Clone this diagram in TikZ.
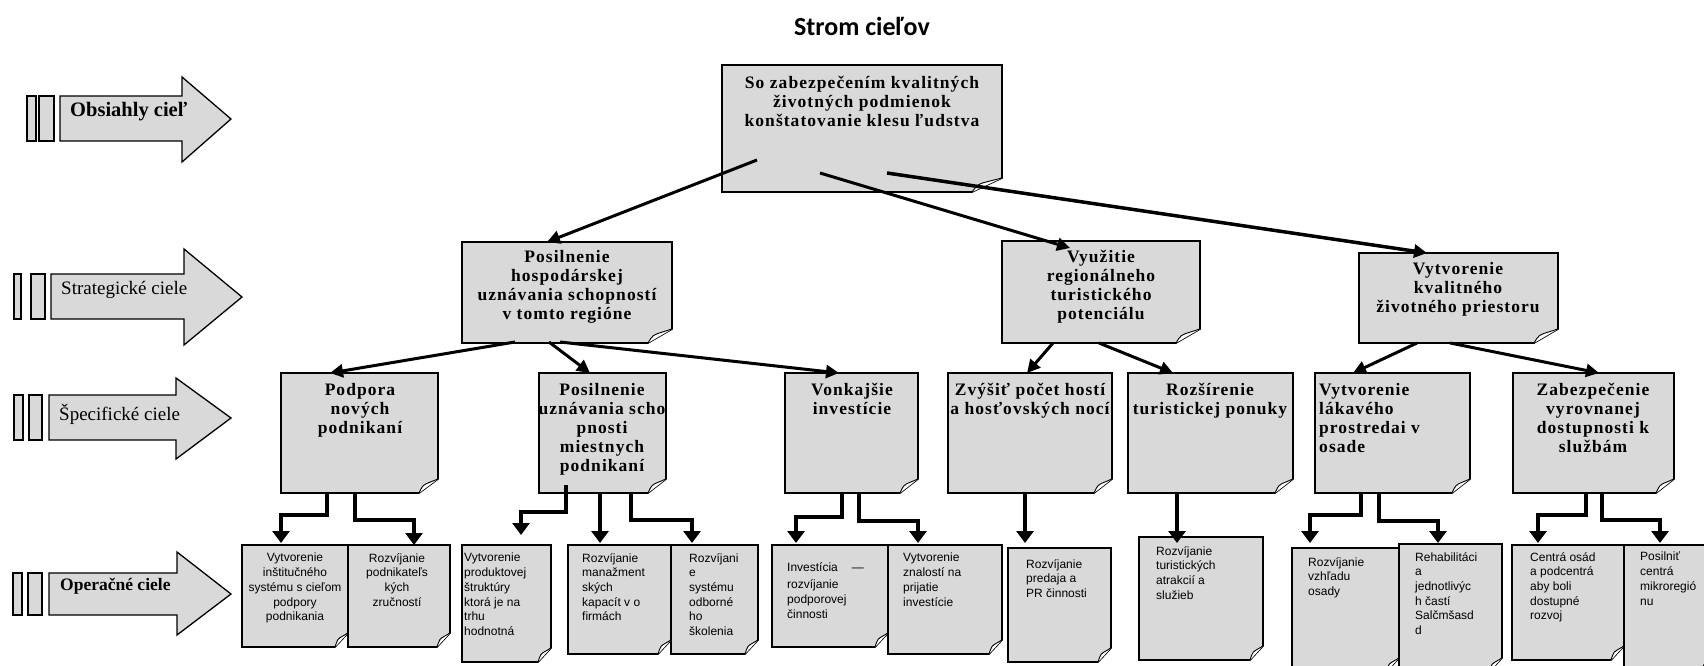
\documentclass[tikz,border=0pt]{standalone}
\usepackage{fontspec}
\setmainfont{Liberation Serif}
\setsansfont{Liberation Sans}
\newfontfamily\titlefont{Carlito}
\usetikzlibrary{arrows.meta,fit}
\definecolor{boxgray}{HTML}{D9D9D9}

\tikzset{
  goal/.style={fill=boxgray, draw=black, line width=1.6pt, line join=miter},
  flap/.style={fill=white, draw=black, line width=0.9pt},
  frame/.style={inner sep=0pt, outer sep=0pt},
  lvl/.style={font=\bfseries\fontsize{17.5}{19}\selectfont\addfontfeature{LetterSpace=6}, align=center, anchor=north, inner sep=0pt},
  lvlleft/.style={lvl, align=left, anchor=north west},
  op/.style={font=\sffamily\fontsize{12}{14.7}\selectfont, align=left, anchor=north west, inner sep=0pt},
  opc/.style={op, align=center, anchor=north},
  tierarrow/.style={fill=boxgray, draw=black, line width=1.3pt, line join=miter},
  tierlabel/.style={anchor=west, inner sep=0pt, font=\fontsize{19}{21}\selectfont},
  conn/.style={line width=3pt, -{Triangle[length=13pt,width=13pt]}},
  elbow/.style={line width=4.5pt, -{Triangle[length=12pt,width=17pt]}},
}

% goal box with a dog-eared bottom-right corner: [fold width]{name}{x1}{y1}{x2}{y2}
\newcommand\goalbox[6][15]{%
  \filldraw[goal] (#3,#4) -- (#5,#4) -- (#5,#6-14) -- (#5-#1,#6) -- (#3,#6) -- cycle;
  \filldraw[flap] (#5-#1,#6) .. controls (#5-#1*0.8,#6-8) .. (#5-#1*0.4,#6-11) -- (#5,#6-14);
  \path (#3,#4) coordinate (#2-nw) (#5,#6) coordinate (#2-se);
  \node[frame, fit=(#2-nw)(#2-se)] (#2) {};
}

\begin{document}
\begin{tikzpicture}[x=1pt,y=-1pt]
\useasboundingbox (0,0) rectangle (1704,666);

% title
\node[font=\titlefont\bfseries\fontsize{26}{28}\selectfont, inner sep=0pt] (title) at (862,26) {Strom cieľov};

% tier arrows on the left
\filldraw[tierarrow] (27,96) rectangle (36,141);
\filldraw[tierarrow] (39,96) rectangle (54,141);
\filldraw[tierarrow] (60,96) -- (182,96) -- (182,77) -- (231,119) -- (182,162) -- (182,141) -- (60,141) -- cycle;
\node[tierlabel, font=\bfseries\fontsize{20.5}{22}\selectfont] (t1) at (70,112) {Obsiahly cieľ};

\filldraw[tierarrow] (14,274) rectangle (21,319);
\filldraw[tierarrow] (31,274) rectangle (45,319);
\filldraw[tierarrow] (51,274) -- (184,274) -- (184,249) -- (242,297) -- (184,345) -- (184,319) -- (51,319) -- cycle;
\node[tierlabel] (t2) at (61,290) {Strategické ciele};

\filldraw[tierarrow] (14,395) rectangle (23,440);
\filldraw[tierarrow] (29,395) rectangle (42,440);
\filldraw[tierarrow] (49,395) -- (176,395) -- (176,378) -- (231,418) -- (176,459) -- (176,440) -- (49,440) -- cycle;
\node[tierlabel] (t3) at (59,414) {Špecifické ciele};

\filldraw[tierarrow] (13,573) rectangle (22,615);
\filldraw[tierarrow] (28,573) rectangle (42,615);
\filldraw[tierarrow] (49,573) -- (177,573) -- (177,552) -- (231,594) -- (177,635) -- (177,615) -- (49,615) -- cycle;
\node[tierlabel, font=\bfseries\fontsize{17.5}{19}\selectfont] (t4) at (60,586) {Operačné ciele};

% overall goal
\goalbox[30]{top}{722}{65}{1002}{192}
\node[lvl] at (862,76) {So zabezpečením kvalitných\\životných podmienok\\konštatovanie klesu ľudstva};

% strategic goals
\goalbox[24]{posh}{462}{242}{672}{343}
\node[lvl] at (567,250) {Posilnenie\\hospodárskej\\uznávania schopností\\v tomto regióne};
\goalbox[24]{vyuz}{1002}{241}{1200}{343}
\node[lvl] at (1101,250) {Využitie\\regionálneho\\turistického\\potenciálu};
\goalbox[24]{vytk}{1359}{253}{1558}{343}
\node[lvl] at (1458,262) {Vytvorenie\\kvalitného\\životného priestoru};

% specific goals
\goalbox[19]{podp}{281}{373}{438}{493}
\node[lvl] at (360,383) {Podpora\\nových\\podnikaní};
\goalbox[18]{posu}{539}{373}{666}{493}
\node[lvl] at (602,383) {Posilnenie\\uznávania scho\\pnosti\\miestnych\\podnikaní};
\goalbox[18]{vonk}{785}{373}{918}{493}
\node[lvl] at (852,383) {Vonkajšie\\investície};
\goalbox[18]{zvys}{948}{373}{1112}{493}
\node[lvl] at (1030,383) {Zvýšiť počet hostí\\a hosťovských nocí};
\goalbox[18]{rozs}{1128}{373}{1293}{493}
\node[lvl] at (1210,383) {Rozšírenie\\turistickej ponuky};
\goalbox[18]{vytl}{1315}{373}{1470}{493}
\node[lvlleft] at (1319,383) {Vytvorenie\\lákavého\\prostredai v\\osade};
\goalbox[18]{zabe}{1513}{373}{1674}{493}
\node[lvl] at (1593,383) {Zabezpečenie\\vyrovnanej\\dostupnosti k\\službám};

% operational goals
\goalbox[13]{o1}{242}{545}{348}{647}
\node[opc] at (295,553) {Vytvorenie\\inštitučného\\systému s cieľom\\podpory\\podnikania};
\goalbox[13]{o2}{348}{545}{450}{647}
\node[opc] at (397,553) {Rozvíjanie\\podnikateľs\\kých\\zručností};
\goalbox[13]{o3}{462}{545}{551}{662}
\node[op] at (464,553) {Vytvorenie\\produktovej\\štruktúry\\ktorá je na\\trhu\\hodnotná};
\goalbox[13]{o4}{568}{545}{671}{654}
\node[op] at (582,553) {Rozvíjanie\\manažment\\ských\\kapacít v o\\firmách};
\goalbox[13]{o5}{671}{545}{758}{654}
\node[op] at (689,553) {Rozvíjani\\e\\systému\\odborné\\ho\\školenia};
\goalbox[13]{o6}{772}{545}{888}{647}
\node[op] at (787,562) {Investícia\hspace{14pt}—\\[3pt]rozvíjanie\\podporovej\\činnosti};
\goalbox[13]{o7}{888}{545}{1002}{654}
\node[op] at (903,553) {Vytvorenie\\znalostí na\\prijatie\\investície};
\goalbox[13]{o8}{1008}{548}{1111}{662}
\node[op] at (1026,559) {Rozvíjanie\\predaja a\\PR činnosti};
\goalbox[13]{o9}{1139}{537}{1263}{660}
\node[op] at (1156,546) {Rozvíjanie\\turistických\\atrakcií a\\služieb};
\goalbox[13]{o10}{1292}{548}{1399}{672}
\node[op] at (1308,557) {Rozvíjanie\\vzhľadu\\osady};
\goalbox[13]{o11}{1399}{544}{1502}{672}
\node[op] at (1415,552) {Rehabilitáci\\a\\jednotlivýc\\h častí\\Salčmšasd\\d};
\goalbox[13]{o12}{1512}{545}{1624}{660}
\node[op] at (1530,552) {Centrá osád\\a podcentrá\\aby boli\\dostupné\\rozvoj};
\goalbox[13]{o13}{1624}{545}{1714}{672}
\node[op] at (1640,552) {Posilniť\\centrá\\mikroregió\\nu};

% overall -> strategic
\draw[conn] ([xshift=35pt,yshift=32pt]top.south west) -- ([xshift=85pt]posh.north west);
\draw[conn] ([xshift=98pt,yshift=19pt]top.south west) -- ([xshift=68pt,yshift=-7pt]vyuz.north west);
\draw[conn, line width=3.5pt] ([xshift=165pt,yshift=19pt]top.south west) -- ([xshift=68pt]vytk.north west);

% strategic -> specific
\draw[conn] ([xshift=53pt,yshift=1pt]posh.south west) -- ([xshift=49pt]podp.north west);
\draw[conn] ([xshift=87pt,yshift=1pt]posh.south west) -- ([xshift=51pt]posu.north west);
\draw[conn] ([xshift=98pt,yshift=1pt]posh.south west) -- ([xshift=54pt]vonk.north west);
\draw[conn] ([xshift=51pt]vyuz.south west) -- ([xshift=79pt]zvys.north west);
\draw[conn] ([xshift=97pt]vyuz.south west) -- ([xshift=45pt]rozs.north west);
\draw[conn] ([xshift=58pt]vytk.south west) -- ([xshift=38pt]vytl.north west);
\draw[conn] ([xshift=91pt]vytk.south west) -- ([xshift=86pt]zabe.north west);

% specific -> operational
\draw[elbow] ([xshift=46pt]podp.south west) -- ++(0,22) -| ([xshift=39pt,yshift=2pt]o1.north west);
\draw[elbow] ([xshift=74pt]podp.south west) -- ++(0,27) -| ([xshift=66pt]o2.north west);
\draw[elbow] ([xshift=27pt,yshift=8pt]posu.south west) -- ++(0,27) -| ([xshift=59pt,yshift=10pt]o3.north west);
\draw[elbow] ([xshift=61pt]posu.south west) -- ([xshift=32pt,yshift=2pt]o4.north west);
\draw[elbow] ([xshift=92pt]posu.south west) -- ++(0,27) -| ([xshift=21pt,yshift=2pt]o5.north west);
\draw[elbow] ([xshift=57pt]vonk.south west) -- ++(0,24) -| ([xshift=24pt,yshift=2pt]o6.north west);
\draw[elbow] ([xshift=74pt]vonk.south west) -- ++(0,28) -| ([xshift=30pt,yshift=2pt]o7.north west);
\draw[elbow] ([xshift=77pt]zvys.south west) -- ([xshift=17pt,yshift=5pt]o8.north west);
\draw[elbow] ([xshift=49pt]rozs.south west) -- ([xshift=38pt,yshift=-6pt]o9.north west);
\draw[elbow] ([xshift=46pt]vytl.south west) -- ++(0,22) -| ([xshift=18pt,yshift=5pt]o10.north west);
\draw[elbow] ([xshift=64pt]vytl.south west) -- ++(0,28) -| ([xshift=39pt,yshift=1pt]o11.north west);
\draw[elbow] ([xshift=73pt]zabe.south west) -- ++(0,22) -| ([xshift=26pt,yshift=2pt]o12.north west);
\draw[elbow] ([xshift=89pt]zabe.south west) -- ++(0,27) -| ([xshift=36pt,yshift=2pt]o13.north west);
\end{tikzpicture}
\end{document}
